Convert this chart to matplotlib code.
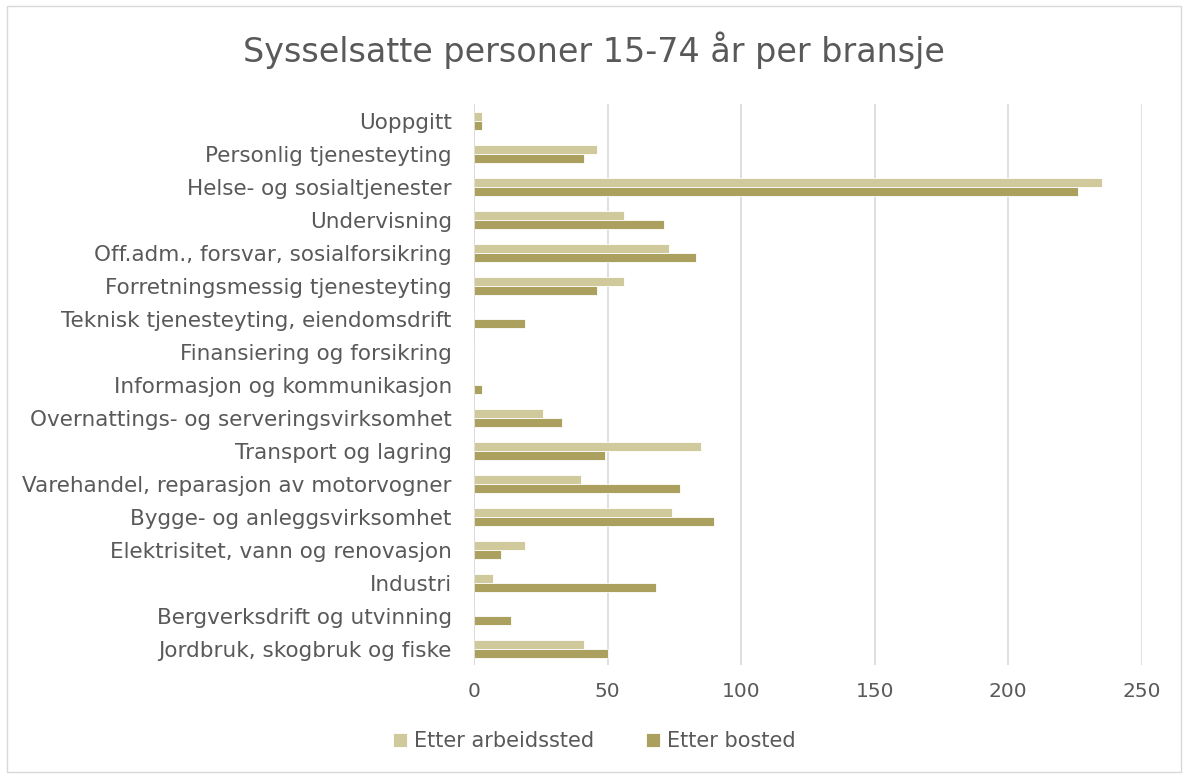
import matplotlib.pyplot as plt
import numpy as np
from matplotlib.patches import Rectangle

# Data (top to bottom as shown)
categories = ['Uoppgitt', 'Personlig tjenesteyting', 'Helse- og sosialtjenester',
              'Undervisning', 'Off.adm., forsvar, sosialforsikring',
              'Forretningsmessig tjenesteyting', 'Teknisk tjenesteyting, eiendomsdrift',
              'Finansiering og forsikring', 'Informasjon og kommunikasjon',
              'Overnattings- og serveringsvirksomhet', 'Transport og lagring',
              'Varehandel, reparasjon av motorvogner', 'Bygge- og anleggsvirksomhet',
              'Elektrisitet, vann og renovasjon', 'Industri',
              'Bergverksdrift og utvinning', 'Jordbruk, skogbruk og fiske']
arbeidssted = [3, 46, 235, 56, 73, 56, 0, 0, 0, 26, 85, 40, 74, 19, 7, 0, 41]
bosted = [3, 41, 226, 71, 83, 46, 19, 0, 3, 33, 49, 77, 90, 10, 68, 14, 50]
x_ticks = [0, 50, 100, 150, 200, 250]

c_light = '#D0C99C'
c_dark = '#ABA05E'
text_c = '#595959'

plt.rcParams['font.family'] = ['DejaVu Sans']

fig = plt.figure(figsize=(11.88, 7.78), dpi=100)
ax = fig.add_axes([0.399, 0.145, 0.562, 0.721])

y = np.arange(len(categories))
h = 0.27
ax.barh(y - h / 2, arbeidssted, height=h, color=c_light, edgecolor='white', linewidth=0.6,
        label='Etter arbeidssted', zorder=3)
ax.barh(y + h / 2, bosted, height=h, color=c_dark, edgecolor='white', linewidth=0.6,
        label='Etter bosted', zorder=3)

ax.set_ylim(len(categories) - 0.5, -0.5)
ax.set_xlim(0, 250)
ax.set_yticks(y)
ax.set_yticklabels(categories, fontsize=15.5, color=text_c)
ax.set_xticks(x_ticks)
ax.set_xticklabels([str(t) for t in x_ticks], fontsize=14.5, color=text_c)
ax.tick_params(axis='both', length=0)
ax.tick_params(axis='x', pad=12)
ax.tick_params(axis='y', pad=16)
ax.grid(axis='x', color='#D9D9D9', linewidth=1.2, zorder=0)
for s in ax.spines.values():
    s.set_visible(False)
ax.axvline(0, color='#D9D9D9', linewidth=1.2, zorder=4)

fig.suptitle('Sysselsatte personer 15-74 år per bransje', fontsize=24, color=text_c, y=0.96)

fig.legend(loc='lower center', bbox_to_anchor=(0.5, 0.01), ncol=2, frameon=False,
           fontsize=15, labelcolor=text_c, handlelength=0.7, handleheight=0.7,
           handletextpad=0.3, columnspacing=2.5)

fig.patches.append(Rectangle((0.006, 0.008), 0.988, 0.984, transform=fig.transFigure,
                             fill=False, edgecolor='#D9D9D9', linewidth=1))

fig.savefig('out.png', dpi=100)
